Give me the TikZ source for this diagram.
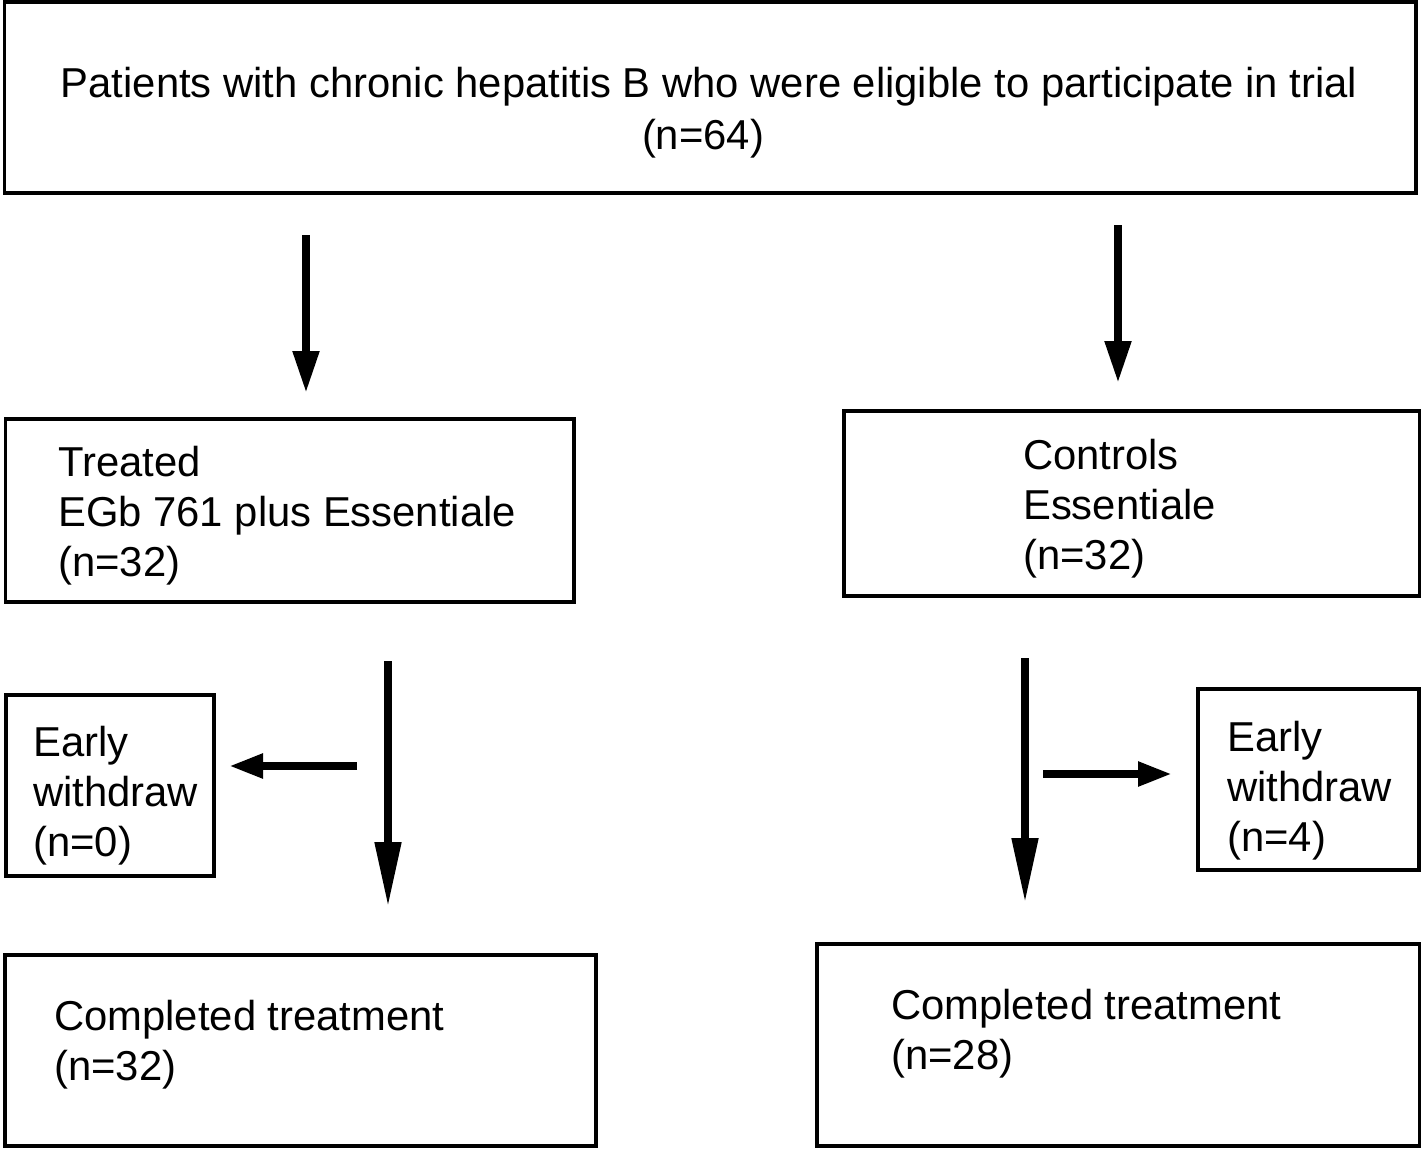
\documentclass[tikz,border=0pt]{standalone}
\usepackage{fontspec}
\setmainfont{Liberation Sans}
\usetikzlibrary{arrows.meta,fit}
\begin{document}
\begin{tikzpicture}[x=1pt,y=-1pt,
  box/.style={draw=black,line width=3.5pt,inner sep=0pt,rectangle},
  txt/.style={font=\fontsize{41.8}{50}\selectfont,align=left,inner sep=0pt,anchor=west},
  ctxt/.style={font=\fontsize{41.8}{52}\selectfont,align=center,inner sep=0pt},
  arrS/.style={line width=8pt,-{Triangle[length=42pt,width=25pt]}},
  arrL/.style={line width=8pt,-{Triangle[length=65pt,width=25pt]}},
  arrH/.style={line width=8pt,-{Triangle[length=34pt,width=23pt]}}]
\useasboundingbox (0,0) rectangle (1422,1149);
% boxes
\node[box,fit={(4.5,2) (1416,193)}] (top) {};
\node[box,fit={(5.5,419) (574,602)}] (treated) {};
\node[box,fit={(844,411) (1419.5,596)}] (controls) {};
\node[box,fit={(6,695) (214,876)}] (ewl) {};
\node[box,fit={(1198,689) (1419,870)}] (ewr) {};
\node[box,fit={(5,955) (596,1146)}] (compl) {};
\node[box,fit={(817,944) (1419.5,1146)}] (compr) {};
% texts
\node[ctxt] (toptxt) at (709,113) {Patients with chronic hepatitis B who were eligible to participate in trial\\(n=64)\hspace*{12pt}};
\node[txt] (treatedtxt) at (58,516) {Treated\\EGb 761 plus Essentiale\\(n=32)};
\node[txt] (controlstxt) at (1023,509) {Controls\\Essentiale\\(n=32)};
\node[txt] (ewltxt) at (33,796) {Early\\withdraw\\(n=0)};
\node[txt] (ewrtxt) at (1227,791) {Early\\withdraw\\(n=4)};
\node[txt] (compltxt) at (54,1045) {Completed treatment\\(n=32)};
\node[txt] (comprtxt) at (891,1034) {Completed treatment\\(n=28)};
% arrow endpoints
\coordinate (a1s) at (306,235);
\coordinate (a1e) at (306,393);
\coordinate (a2s) at (1118,225);
\coordinate (a2e) at (1118,383);
\coordinate (a3s) at (388,661);
\coordinate (a3e) at (388,907);
\coordinate (a4s) at (357,766);
\coordinate (a4e) at (229,766);
\coordinate (a5s) at (1025,658);
\coordinate (a5e) at (1025,903);
\coordinate (a6s) at (1043,774);
\coordinate (a6e) at (1172,774);
\draw[arrS] (a1s) -- (a1e);
\draw[arrS] (a2s) -- (a2e);
\draw[arrL] (a3s) -- (a3e);
\draw[arrH] (a4s) -- (a4e);
\draw[arrL] (a5s) -- (a5e);
\draw[arrH] (a6s) -- (a6e);
\end{tikzpicture}
\end{document}
